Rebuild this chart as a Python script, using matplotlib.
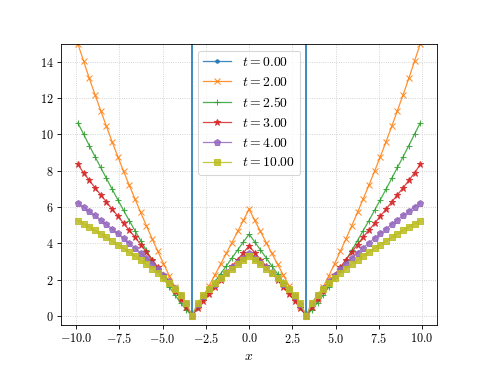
import matplotlib
matplotlib.use('Agg')
import matplotlib.pyplot as plt

plt.rcParams['font.family'] = 'serif'
plt.rcParams['font.serif'] = ['cmr10']
plt.rcParams['mathtext.fontset'] = 'cm'
plt.rcParams['axes.formatter.use_mathtext'] = True
plt.rcParams['font.size'] = 11.5

x = [-9.9, -9.57, -9.24, -8.91, -8.58, -8.25, -7.92, -7.59, -7.26, -6.93, -6.6,
     -6.27, -5.94, -5.61, -5.28, -4.95, -4.62, -4.29, -3.96, -3.63, -3.3,
     -2.97, -2.64, -2.31, -1.98, -1.65, -1.32, -0.99, -0.66, -0.33, 0.0,
     0.33, 0.66, 0.99, 1.32, 1.65, 1.98, 2.31, 2.64, 2.97, 3.3,
     3.63, 3.96, 4.29, 4.62, 4.95, 5.28, 5.61, 5.94, 6.27, 6.6,
     6.93, 7.26, 7.59, 7.92, 8.25, 8.58, 8.91, 9.24, 9.57, 9.9]

t_values = [0.0, 2.0, 2.5, 3.0, 4.0, 10.0]

# t = 0 blows up everywhere except at the two roots
y_t0 = [1000.0] * 20 + [0.0] + [1000.0] * 19 + [0.0] + [1000.0] * 20

y_t2 = [15.0, 14.05, 13.1, 12.2, 11.32, 10.45, 9.6, 8.78, 7.98, 7.2, 6.45, 5.7, 4.97, 4.26, 3.56, 2.88, 2.22, 1.6, 1.0, 0.5, 0.0,
        0.52, 1.09, 1.66, 2.24, 2.84, 3.44, 4.04, 4.65, 5.26, 5.88, 5.26, 4.65, 4.04, 3.44, 2.84, 2.24, 1.66, 1.09, 0.52,
        0.0, 0.5, 1.0, 1.6, 2.22, 2.88, 3.56, 4.26, 4.97, 5.7, 6.45, 7.2, 7.98, 8.78, 9.6, 10.45, 11.32, 12.2, 13.1, 14.05, 15.0]

y_t25 = [10.64, 10.02, 9.39, 8.78, 8.18, 7.58, 6.98, 6.4, 5.82, 5.25, 4.7, 4.15, 3.61, 3.08, 2.57, 2.07, 1.6, 1.15, 0.72, 0.33, 0.0,
         0.48, 0.95, 1.41, 1.86, 2.31, 2.74, 3.19, 3.63, 4.07, 4.5, 4.07, 3.63, 3.19, 2.74, 2.31, 1.86, 1.41, 0.95, 0.48,
         0.0, 0.33, 0.72, 1.15, 1.6, 2.07, 2.57, 3.08, 3.61, 4.15, 4.7, 5.25, 5.82, 6.4, 6.98, 7.58, 8.18, 8.78, 9.39, 10.02, 10.64]

y_t3 = [8.35, 7.88, 7.47, 7.06, 6.67, 6.28, 5.88, 5.5, 5.1, 4.72, 4.34, 3.93, 3.52, 3.1, 2.68, 2.26, 1.83, 1.39, 0.95, 0.49, 0.0,
        0.42, 0.82, 1.21, 1.6, 1.98, 2.36, 2.73, 3.1, 3.48, 3.85, 3.48, 3.1, 2.73, 2.36, 1.98, 1.6, 1.21, 0.82, 0.42,
        0.0, 0.49, 0.95, 1.39, 1.83, 2.26, 2.68, 3.1, 3.52, 3.93, 4.34, 4.72, 5.1, 5.5, 5.88, 6.28, 6.67, 7.06, 7.47, 7.88, 8.35]

y_t4 = [6.24, 6.01, 5.77, 5.54, 5.3, 5.05, 4.8, 4.55, 4.29, 4.02, 3.75, 3.47, 3.18, 2.88, 2.58, 2.25, 1.91, 1.55, 1.15, 0.69, 0.0,
        0.66, 1.08, 1.45, 1.78, 2.09, 2.39, 2.67, 2.94, 3.2, 3.45, 3.2, 2.94, 2.67, 2.39, 2.09, 1.78, 1.45, 1.08, 0.66,
        0.0, 0.69, 1.15, 1.55, 1.91, 2.25, 2.58, 2.88, 3.18, 3.47, 3.75, 4.02, 4.29, 4.55, 4.8, 5.05, 5.3, 5.54, 5.77, 6.01, 6.24]

y_t10 = [5.25, 5.07, 4.89, 4.71, 4.52, 4.33, 4.13, 3.93, 3.73, 3.52, 3.3, 3.07, 2.84, 2.6, 2.34, 2.07, 1.79, 1.47, 1.12, 0.71, 0.0,
         0.71, 1.12, 1.47, 1.79, 2.07, 2.34, 2.6, 2.84, 3.07, 3.3, 3.07, 2.84, 2.6, 2.34, 2.07, 1.79, 1.47, 1.12, 0.71,
         0.0, 0.71, 1.12, 1.47, 1.79, 2.07, 2.34, 2.6, 2.84, 3.07, 3.3, 3.52, 3.73, 3.93, 4.13, 4.33, 4.52, 4.71, 4.89, 5.07, 5.25]

curves = [y_t0, y_t2, y_t25, y_t3, y_t4, y_t10]
markers = ['.', 'x', '+', '*', 'p', 's']
colors = ['#1f77b4', '#ff7f0e', '#2ca02c', '#d62728', '#9467bd', '#bcbd22']

fig = plt.figure(figsize=(486 / 76, 365 / 76), dpi=76)
ax = plt.gca()

for t, y, m, c in zip(t_values, curves, markers, colors):
    plt.plot(x, y, marker=m, color=c, lw=1.2, ms=6.5, alpha=0.85,
             label=f'$t = {t:.2f}$')

plt.ylim(-0.5, 15)
plt.xlabel('$x$', fontsize=13)
plt.grid(True, linestyle=':', color='#c8c8c8', linewidth=0.8)
plt.legend(loc='upper center', fontsize=13)

plt.savefig('out.png', dpi=76)
plt.close()
